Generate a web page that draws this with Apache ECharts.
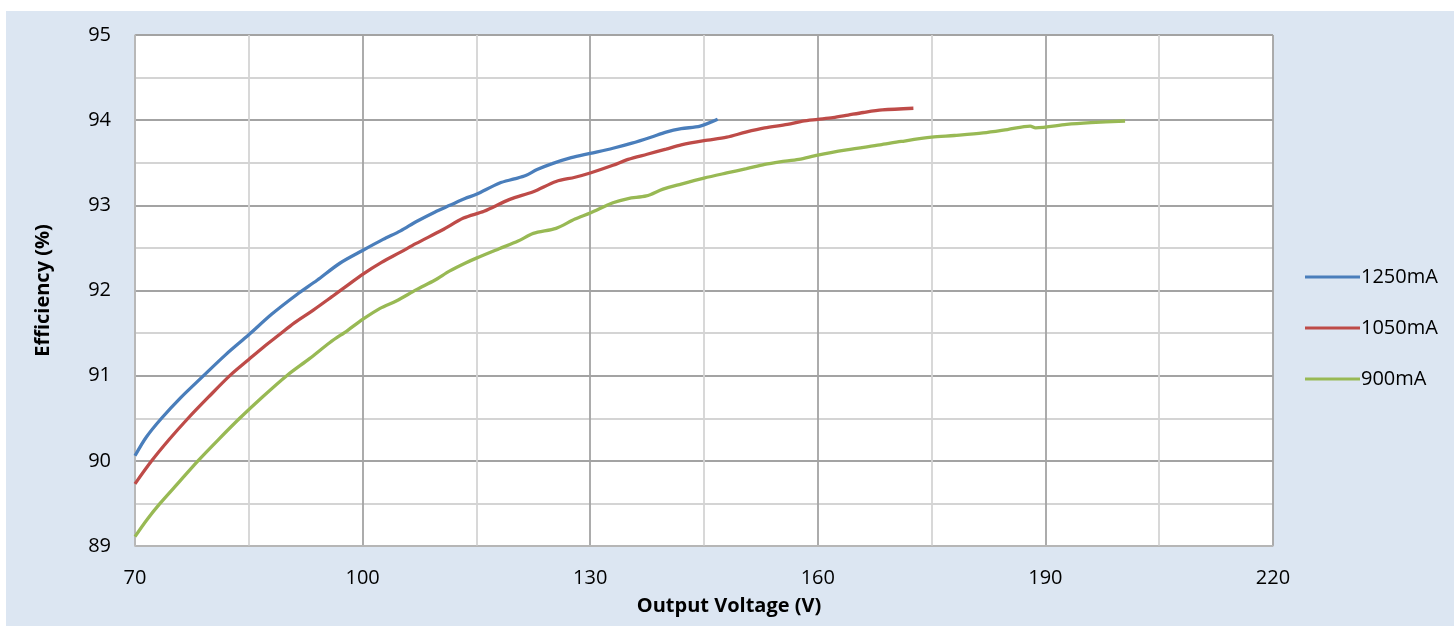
<!DOCTYPE html>
<html>
<head>
<meta charset="utf-8">
<script src="https://cdn.jsdelivr.net/npm/echarts@6/dist/echarts.min.js"></script>
<style>
  html, body { margin: 0; padding: 0; background: #fff; }
  #chart {
    width: 1454px; height: 626px;
    background: linear-gradient(#dce6f2, #dce6f2) 6px 11px / 1448px 615px no-repeat, #fff;
  }
</style>
</head>
<body>
<div id="chart"></div>
<script>
// Output voltage (V) vs. efficiency (%) for three LED drive currents
const seriesNames = ['1250mA', '1050mA', '900mA'];

const eff1250 = [
  [70, 90.06], [71.5, 90.28], [73.5, 90.5], [76, 90.74], [78.8, 90.98], [82, 91.25],
  [85, 91.48], [88, 91.72], [91.3, 91.95], [94, 92.12], [97, 92.32], [100, 92.47],
  [102.7, 92.6], [105, 92.7], [107.1, 92.81], [109.5, 92.92], [111.5, 93.0],
  [113.5, 93.08], [115, 93.13], [118, 93.26], [120, 93.31], [121.5, 93.35],
  [123, 93.42], [125, 93.49], [127.5, 93.56], [130, 93.61], [133, 93.67],
  [135.5, 93.73], [138, 93.8], [140, 93.86], [142, 93.9], [144.5, 93.93], [146.8, 94.01]
];

const eff1050 = [
  [70, 89.73], [72.2, 90.0], [74.5, 90.25], [77, 90.5], [79.7, 90.75], [82.5, 91.0],
  [85, 91.19], [87, 91.34], [89, 91.48], [91, 91.62], [93.5, 91.77], [96, 91.93],
  [98, 92.06], [100, 92.19], [102.5, 92.33], [105, 92.45], [107, 92.55],
  [110.5, 92.71], [113.3, 92.85], [116, 92.93], [119.4, 93.07], [122.5, 93.16],
  [125.5, 93.28], [128, 93.33], [130, 93.38], [133, 93.47], [135, 93.54],
  [137.5, 93.6], [140, 93.66], [142, 93.71], [145, 93.76], [148, 93.8],
  [150.5, 93.86], [153, 93.91], [156, 93.95], [158, 93.99], [160, 94.01],
  [162, 94.03], [164, 94.06], [166, 94.09], [168.5, 94.12], [172.6, 94.14]
];

const eff900 = [
  [70, 89.11], [71.5, 89.3], [73.3, 89.5], [75.8, 89.75], [78.3, 90.0], [81, 90.25],
  [83.8, 90.5], [86.8, 90.75], [90, 91.0], [93, 91.2], [95.7, 91.39], [98, 91.53],
  [100, 91.66], [102.3, 91.79], [104.5, 91.88], [107.1, 92.01], [109.5, 92.12],
  [111.5, 92.23], [113.5, 92.32], [115, 92.38], [118, 92.49], [120.5, 92.58],
  [122.5, 92.67], [125.5, 92.73], [128, 92.84], [130, 92.91], [133, 93.03],
  [135, 93.08], [137.4, 93.11], [139.6, 93.19], [142, 93.25], [145, 93.32],
  [148, 93.38], [150.6, 93.43], [153, 93.48], [155, 93.51], [157.5, 93.54],
  [160, 93.59], [163.8, 93.65], [168.2, 93.71], [171, 93.75], [175, 93.8],
  [178, 93.82], [181.8, 93.85], [185, 93.89], [188, 93.93], [188.7, 93.91],
  [192.8, 93.95], [196, 93.97], [200.5, 93.99]
];

const xTicks = { min: 70, max: 220, step: 30 };
const yTicks = { min: 89, max: 95, step: 1 };

const colors = ['#4a7ebb', '#be4b48', '#98b954'];
const font = '"Open Sans", "Liberation Sans", sans-serif';
const majorGrid = '#a3a3a3';
const minorGrid = '#d4d4d4';

const chart = echarts.init(document.getElementById('chart'), null, { renderer: 'canvas' });

const mkSeries = (name, data, i) => ({
  name, type: 'line', data,
  smooth: 0.3, showSymbol: false, symbol: 'none',
  lineStyle: { color: colors[i], width: 3.3 },
  itemStyle: { color: colors[i] },
  z: 5
});

chart.setOption({
  backgroundColor: 'transparent',
  animation: false,
  textStyle: { fontFamily: font },
  grid: {
    left: 135, top: 35, right: 181, bottom: 80,
    show: true, backgroundColor: '#fff', borderWidth: 0
  },
  legend: {
    orient: 'vertical',
    left: 1300, top: 259,
    icon: 'rect',
    itemWidth: 55, itemHeight: 3,
    itemGap: 25,
    data: seriesNames,
    textStyle: { fontSize: 20, color: '#000', fontFamily: font, padding: [0, 0, 0, -4], lineHeight: 26 }
  },
  xAxis: {
    type: 'value',
    min: xTicks.min, max: xTicks.max, interval: xTicks.step,
    name: 'Output Voltage (V)',
    nameLocation: 'middle', nameGap: 50,
    nameTextStyle: { fontSize: 20, fontWeight: 'bold', color: '#000', padding: [0, 0, 0, 50] },
    axisLine: { show: true, lineStyle: { color: '#bdbdbd', width: 1.5 } },
    axisTick: { show: false },
    axisLabel: { fontSize: 20, color: '#000', margin: 22 },
    splitLine: { show: true, lineStyle: { color: majorGrid, width: 1.8 } },
    minorTick: { show: false, splitNumber: 2 },
    minorSplitLine: { show: true, lineStyle: { color: minorGrid, width: 1.8 } }
  },
  yAxis: {
    type: 'value',
    min: yTicks.min, max: yTicks.max, interval: yTicks.step,
    name: 'Efficiency (%)',
    nameLocation: 'middle', nameGap: 82,
    nameTextStyle: { fontSize: 20, fontWeight: 'bold', color: '#000' },
    axisLine: { show: true, lineStyle: { color: '#bdbdbd', width: 1.5 } },
    axisTick: { show: false },
    axisLabel: { fontSize: 20, color: '#000', margin: 24 },
    splitLine: { show: true, lineStyle: { color: majorGrid, width: 1.8 } },
    minorTick: { show: false, splitNumber: 2 },
    minorSplitLine: { show: true, lineStyle: { color: minorGrid, width: 1.8 } }
  },
  series: [
    mkSeries(seriesNames[0], eff1250, 0),
    mkSeries(seriesNames[1], eff1050, 1),
    mkSeries(seriesNames[2], eff900, 2)
  ]
});
</script>
</body>
</html>
